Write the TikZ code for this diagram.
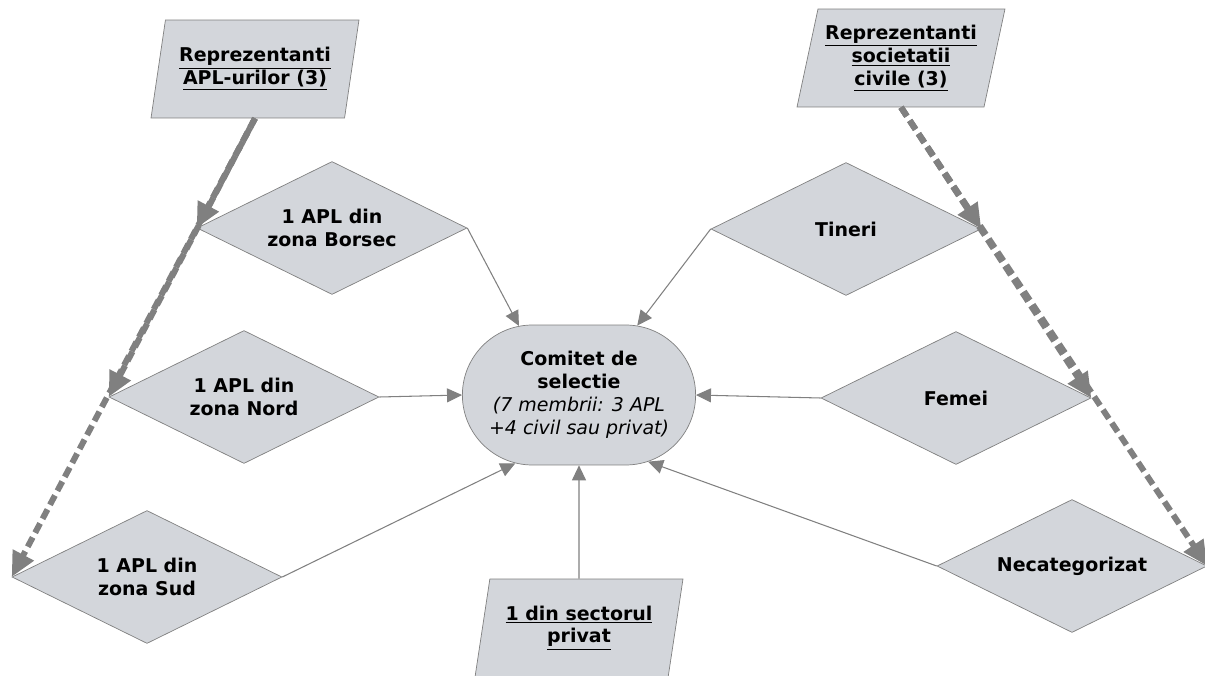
\documentclass[tikz,border=0pt]{standalone}
\usepackage{fontspec}
\setmainfont{DejaVu Sans}
\usetikzlibrary{arrows.meta, positioning, shapes.geometric, shapes.misc}
\definecolor{boxfill}{RGB}{211,214,219}
\definecolor{linegray}{RGB}{128,128,128}

\begin{document}
\begin{tikzpicture}[
        x=0.02cm, y=-0.02cm,
        every node/.style={font=\fontsize{10.8}{13}\selectfont\bfseries},
        choice/.style={
            diamond,
            aspect=2,
            draw=linegray,
            fill=boxfill,
            align=center,
            minimum width=5.4cm,
            minimum height=2.66cm,
            inner sep=0pt
        },
        source/.style={
            trapezium,
            trapezium left angle=74,
            trapezium right angle=106,
            trapezium stretches body,
            draw=linegray,
            fill=boxfill,
            align=center,
            minimum width=4.16cm,
            minimum height=1.96cm,
            inner sep=2pt
        },
        committee/.style={
            rounded rectangle,
            draw=linegray,
            fill=boxfill,
            align=center,
            minimum width=4.9cm,
            minimum height=2.8cm
        },
        arrow/.style={
            -{Triangle[length=0.3cm, width=0.28cm]},
            draw=linegray,
            line width=0.6pt
        },
        member/.style={
            -{Triangle[length=0.5cm, width=0.45cm]},
            draw=linegray,
            line width=3.4pt,
            dash pattern=on 6pt off 3pt
        }
    ]

    \useasboundingbox (0,0) rectangle (1205,676);

    % Selection committee
    \node[committee] (comitet) at (579,395)
        {Comitet de\\
         selectie\\
         {\normalfont\itshape (7 membrii: 3 APL}\\
         {\normalfont\itshape +4 civil sau privat)}};

    % Sources
    \node[source] (apl) at (255,69)
        {\underline{Reprezentanti}\\
         \underline{APL-urilor (3)}};

    \node[source] (civil) at (901,58)
        {\underline{Reprezentanti}\\
         \underline{societatii}\\
         \underline{civile (3)}};

    \node[source] (privat) at (579,628)
        {\underline{1 din sectorul}\\
         \underline{privat}};

    % APL seats
    \node[choice] (borsec) at (332,228) {1 APL din\\ zona Borsec};
    \node[choice] (nord) at (244,397) {1 APL din\\ zona Nord};
    \node[choice] (sud) at (147,577) {1 APL din\\ zona Sud};

    % Civil society seats
    \node[choice] (tineri) at (846,229) {Tineri};
    \node[choice] (femei) at (956,398) {Femei};
    \node[choice] (necat) at (1072,566) {Necategorizat};

    % Seats to committee
    \draw[arrow] (borsec.east) -- (comitet.131);
    \draw[arrow] (nord.east) -- (comitet.west);
    \draw[arrow] (sud.east) -- (comitet.227);
    \draw[arrow] (tineri.west) -- (comitet.50);
    \draw[arrow] (femei.west) -- (comitet.east);
    \draw[arrow] (necat.west) -- (comitet.316);
    \draw[arrow] (privat.north) -- (comitet.south);

    % Sources to seats
    \draw[member] (apl.south) -- (borsec.west);
    \draw[member, dash phase=3pt] (apl.south) -- (nord.west);
    \draw[member] (apl.south) -- (sud.west);

    \draw[member] (civil.south) -- (tineri.east);
    \draw[member] (civil.south) -- (femei.east);
    \draw[member] (civil.south) -- (necat.east);

\end{tikzpicture}
\end{document}
